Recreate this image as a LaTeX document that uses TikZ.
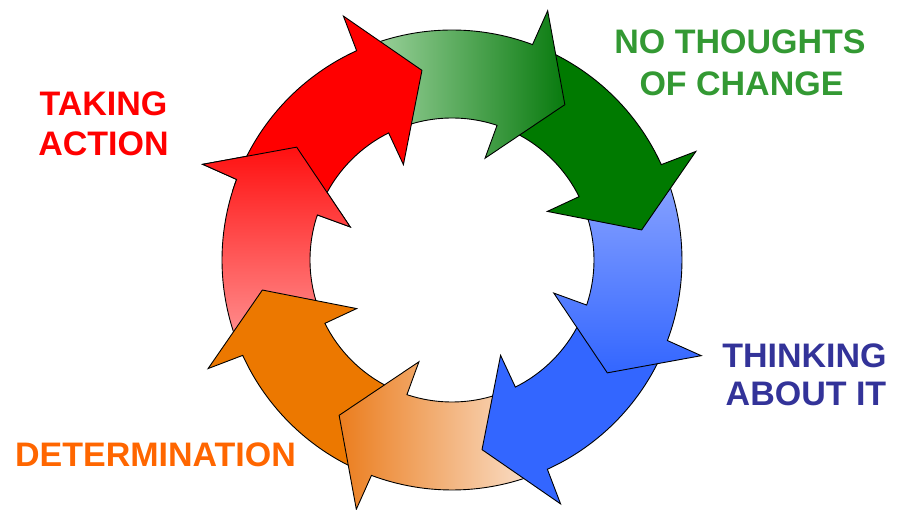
\documentclass[tikz,border=0pt]{standalone}
\usepackage{fontspec}
\setmainfont{Liberation Sans}
\definecolor{redsolid}{RGB}{255,0,0}
\definecolor{greensolid}{RGB}{0,122,0}
\definecolor{greenlight}{RGB}{165,215,165}
\definecolor{greendark}{RGB}{8,122,14}
\definecolor{bluesolid}{RGB}{51,102,255}
\definecolor{bluelight}{RGB}{140,165,255}
\definecolor{orangesolid}{RGB}{236,120,0}
\definecolor{orangeleft}{RGB}{235,125,30}
\definecolor{orangelight}{RGB}{250,228,210}
\definecolor{redtop}{RGB}{255,16,16}
\definecolor{redbottom}{RGB}{255,150,150}
\definecolor{txtgreen}{RGB}{51,153,51}
\definecolor{txtred}{RGB}{255,0,0}
\definecolor{txtblue}{RGB}{51,51,153}
\definecolor{txtorange}{RGB}{255,102,0}
\begin{document}
\begin{tikzpicture}[x=1pt,y=1pt,
  arrowshape/.style={insert path={(#1+59:230) arc[start angle=#1+59, end angle=#1+15.5, radius=230]
     -- (#1+15:267) -- (#1:192) -- (#1+18:107) -- (#1+17.5:142)
     arc[start angle=#1+17.5, end angle=#1+61, radius=142] -- cycle}},
  outline/.style={draw=black, line width=0.9pt, line join=miter},
  label/.style={inner sep=0pt, anchor=base, font=\fontsize{34}{40}\selectfont\bfseries}]
\useasboundingbox (-452,-250) rectangle (445,260);
% arrows drawn so that each head lies over the next tail
\shade[outline, top color=redtop, bottom color=redbottom, arrowshape=144];
\path[outline, fill=orangesolid, arrowshape=-171];
\shade[outline, left color=orangeleft, right color=orangelight, arrowshape=-126];
\path[outline, fill=bluesolid, arrowshape=-81];
\shade[outline, top color=bluelight, bottom color=bluesolid, arrowshape=-36];
\path[outline, fill=greensolid, arrowshape=9];
\shade[outline, left color=greenlight, right color=greendark, arrowshape=54];
\path[outline, fill=redsolid, arrowshape=99];
\begin{scope}
  \clip (0,0) -- (134:330) arc[start angle=134, end angle=162.5, radius=330] -- cycle;
  \shade[outline, top color=redtop, bottom color=redbottom, arrowshape=144];
\end{scope}
% labels
\node[label, text=txtgreen] (nothoughts) at (288,206) {NO THOUGHTS};
\node[label, text=txtgreen] (ofchange) at (289.5,164) {OF CHANGE};
\node[label, text=txtred] (taking) at (-348.5,144) {TAKING};
\node[label, text=txtred] (action) at (-348.5,104) {ACTION};
\node[label, text=txtblue] (thinking) at (352.5,-108) {THINKING};
\node[label, text=txtblue] (aboutit) at (354,-146) {ABOUT IT};
\node[label, text=txtorange] (determination) at (-296.5,-207) {DETERMINATION};
\end{tikzpicture}
\end{document}
